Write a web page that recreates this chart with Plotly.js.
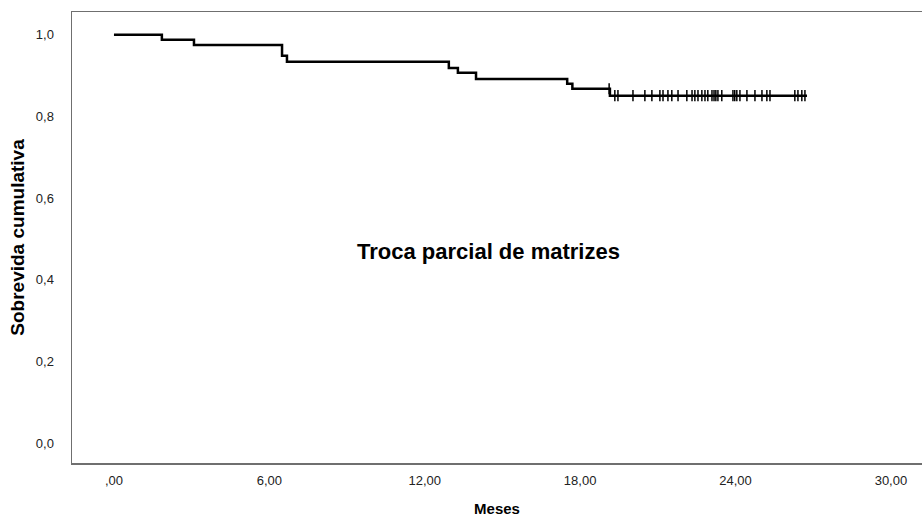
<!DOCTYPE html>
<html><head><meta charset="utf-8">
<script src="https://cdn.plot.ly/plotly-3.0.1.min.js"></script>
<style>body{margin:0;background:#fff}#chart{width:922px;height:518px}</style>
</head><body><div id="chart"></div>
<script>
const stepTimes = [0, 1.85, 3.09, 6.49, 6.68, 12.93, 13.28, 13.98, 17.5, 17.7, 19.15, 26.76];
const stepSurvival = [1.0, 0.988, 0.975, 0.949, 0.934, 0.919, 0.907, 0.892, 0.880, 0.868, 0.851, 0.851];
const censorTimes = [19.12, 19.34, 19.46, 20.04, 20.50, 20.77, 21.08, 21.20, 21.39, 21.54, 21.78, 22.12, 22.32, 22.43, 22.55, 22.70, 22.82, 22.93, 23.09, 23.17, 23.24, 23.32, 23.47, 23.90, 23.97, 24.05, 24.17, 24.44, 24.75, 25.02, 25.21, 25.33, 26.29, 26.41, 26.56, 26.68];
const xTickVals = [0, 6, 12, 18, 24, 30];
const xTickText = [",00", "6,00", "12,00", "18,00", "24,00", "30,00"];
const yTickVals = [0, 0.2, 0.4, 0.6, 0.8, 1.0];
const yTickText = ["0,0", "0,2", "0,4", "0,6", "0,8", "1,0"];
const groupLabel = "Troca parcial de matrizes";

function survivalAt(t) {
  let s = stepSurvival[0];
  for (let i = 0; i < stepTimes.length; i++) { if (stepTimes[i] <= t) s = stepSurvival[i]; }
  return s;
}

const font = "Liberation Sans, Arial, sans-serif";
const traces = [
  {x: stepTimes, y: stepSurvival, type: "scatter", mode: "lines", line: {shape: "hv", color: "#000", width: 2.5}, hoverinfo: "skip", showlegend: false},
  {x: censorTimes, y: censorTimes.map(survivalAt), type: "scatter", mode: "markers",
   marker: {symbol: "line-ns", size: 8, line: {color: "#000", width: 1.5}}, hoverinfo: "skip", showlegend: false}
];

const layout = {
  width: 922, height: 518,
  margin: {l: 72, r: 0, t: 12, b: 55},
  paper_bgcolor: "#fff", plot_bgcolor: "#fff",
  showlegend: false,
  xaxis: {
    range: [-1.62, 31.2], tickvals: xTickVals, ticktext: xTickText,
    showgrid: false, zeroline: false, showline: true, mirror: true,
    linecolor: "#6f6f6f", linewidth: 1.5,
    ticks: "outside", ticklen: 5, tickcolor: "rgba(0,0,0,0)",
    tickfont: {family: font, size: 13, color: "#222"},
    title: {text: "Meses", font: {family: font, size: 15, color: "#000", weight: "bold"}, standoff: 16}
  },
  yaxis: {
    range: [-0.049, 1.056], tickvals: yTickVals, ticktext: yTickText,
    showgrid: false, zeroline: false, showline: true, mirror: false,
    linecolor: "#6f6f6f", linewidth: 1.5,
    ticks: "outside", ticklen: 14, tickcolor: "rgba(0,0,0,0)",
    tickfont: {family: font, size: 13, color: "#222"},
    title: {text: "Sobrevida cumulativa", font: {family: font, size: 19, color: "#000", weight: "bold"}, standoff: 6}
  },
  annotations: [{
    text: groupLabel, xref: "paper", yref: "paper", x: 0.49, y: 0.47,
    xanchor: "center", yanchor: "middle", showarrow: false,
    font: {family: font, size: 22, color: "#000", weight: "bold"}
  }]
};

Plotly.newPlot("chart", traces, layout, {displayModeBar: false, staticPlot: true});
</script>
</body></html>
